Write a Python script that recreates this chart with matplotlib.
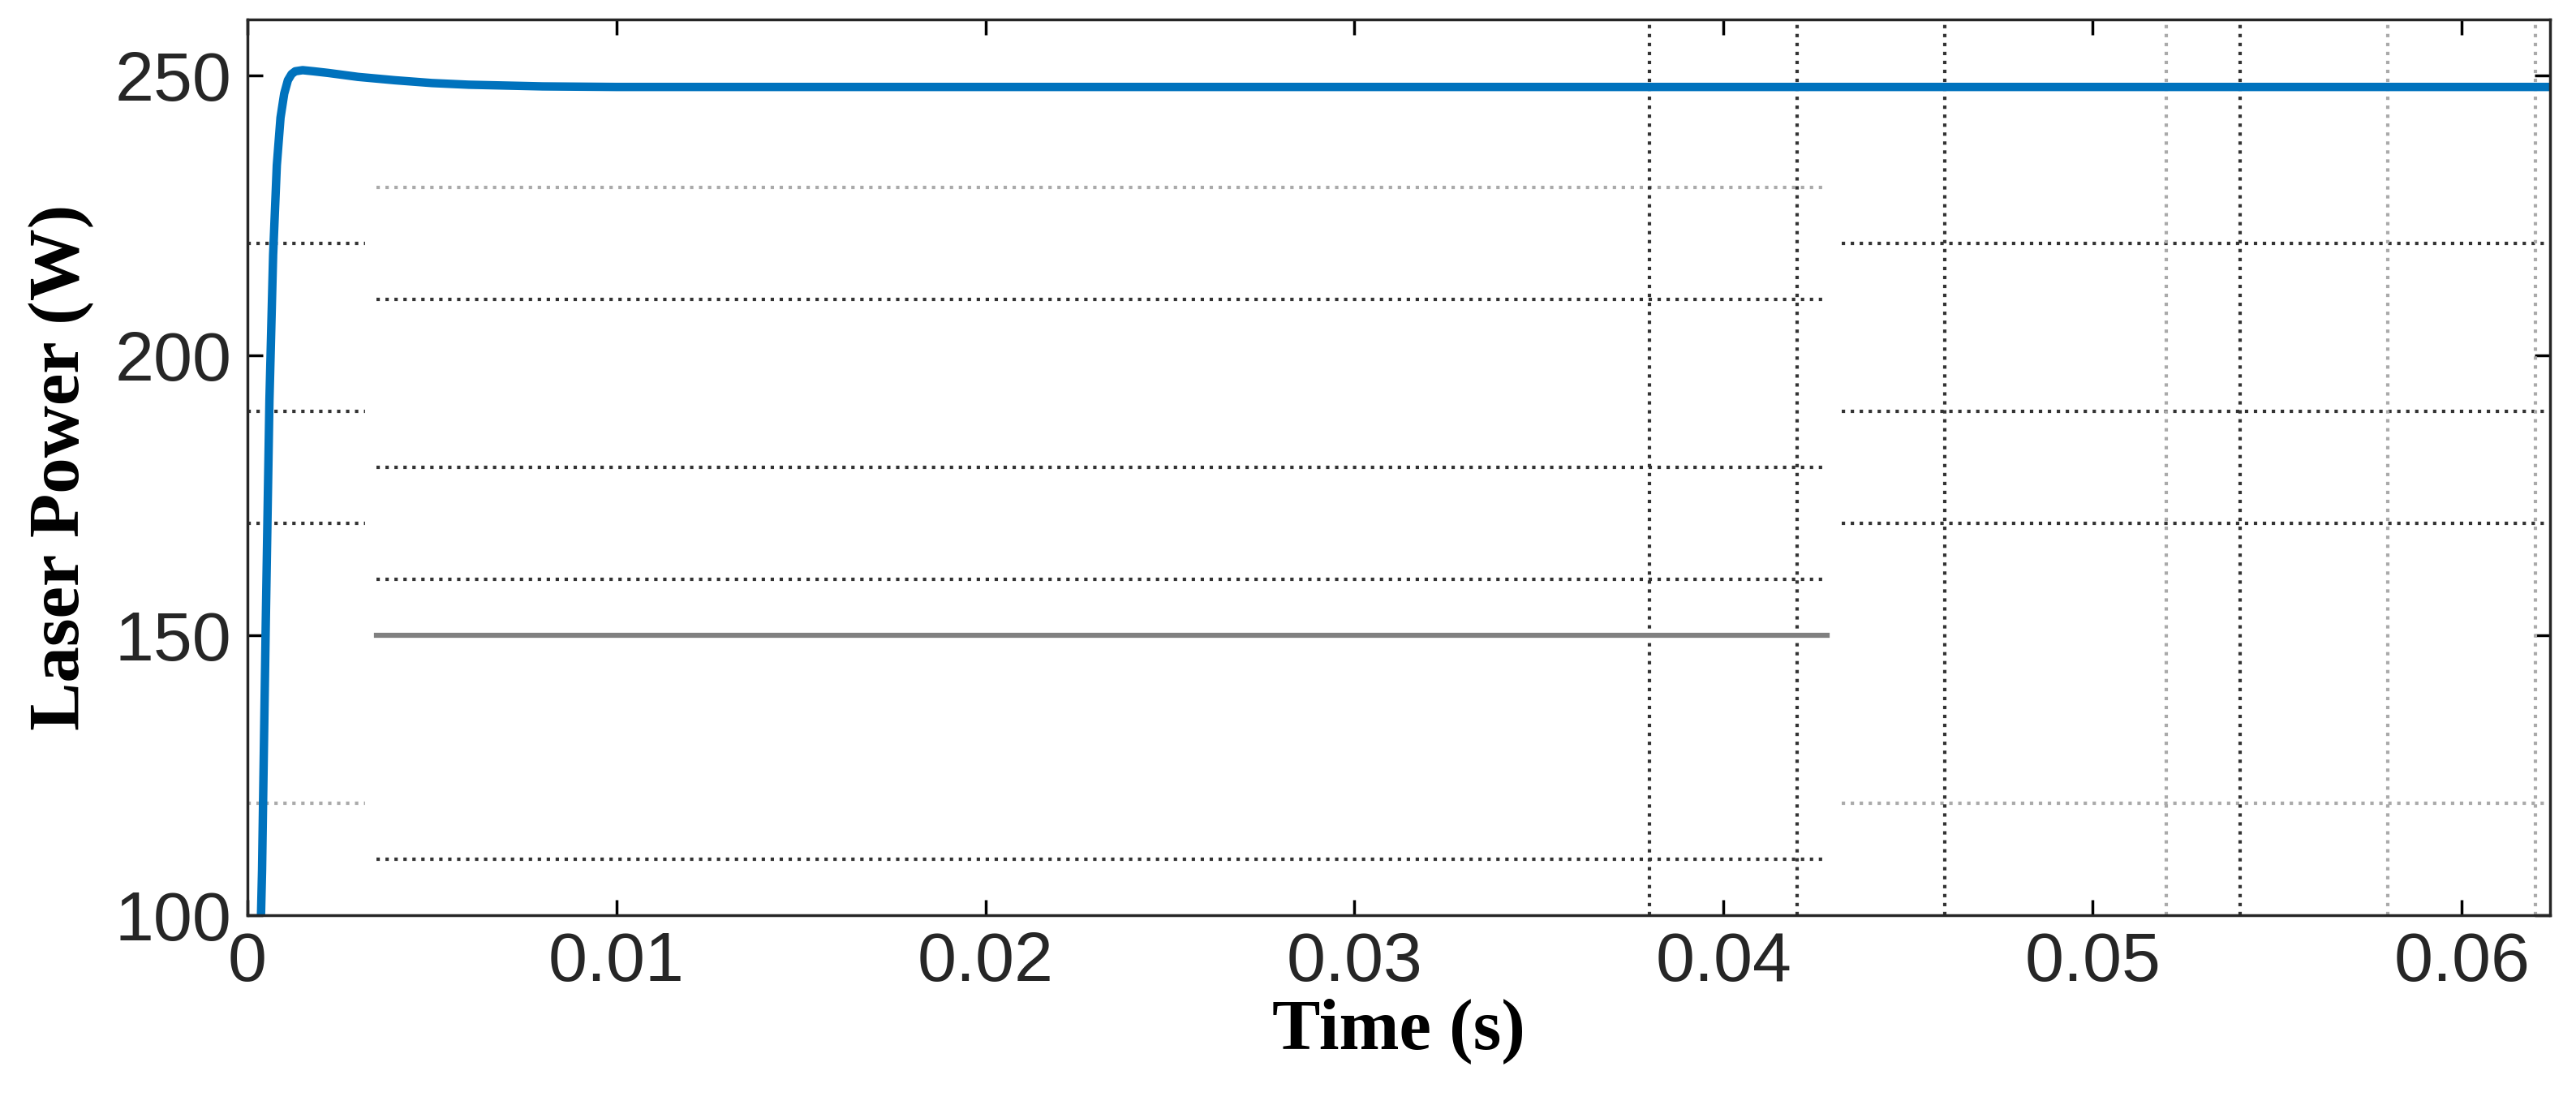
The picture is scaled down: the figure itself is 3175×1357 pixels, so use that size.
import matplotlib
matplotlib.use("Agg")
import matplotlib.pyplot as plt

# laser power response
t = [0.0002, 0.0003, 0.0004, 0.0005, 0.0006, 0.0007, 0.0008, 0.0009, 0.0010, 0.0011,
     0.0012, 0.0013, 0.0015, 0.0018, 0.0022, 0.0030, 0.0040, 0.0050, 0.0060, 0.0080,
     0.0100, 0.0624]
p = [40, 80, 108, 152, 192, 218, 234, 242.5, 246.8, 249.2,
     250.3, 250.8, 251, 250.8, 250.5, 249.8, 249.2, 248.7, 248.4, 248.1,
     248, 248]

# odd grid fragments in the figure
h_inner = [(230, "#aaaaaa"), (210, "#333333"), (180, "#333333"), (160, "#333333"), (110, "#333333")]
h_outer = [(220, "#333333"), (190, "#333333"), (170, "#333333"), (120, "#aaaaaa")]
v_lines = [(0.038, "#333333"), (0.042, "#333333"), (0.046, "#333333"), (0.052, "#aaaaaa"),
           (0.054, "#333333"), (0.058, "#aaaaaa"), (0.062, "#aaaaaa")]
ref_level = 150
inner_span = (0.0035, 0.0428)
outer_left = (0.0, 0.0032)
outer_right = (0.0432, 0.0624)

fig = plt.figure(figsize=(31.75, 13.57), dpi=100)
ax = fig.add_axes([0.096, 0.169, 0.894, 0.813])

for y, c in h_inner:
    ax.plot(inner_span, [y, y], ls=":", color=c, lw=3)
for y, c in h_outer:
    ax.plot(outer_left, [y, y], ls=":", color=c, lw=3)
    ax.plot(outer_right, [y, y], ls=":", color=c, lw=3)
for x, c in v_lines:
    ax.axvline(x, ls=":", color=c, lw=3)
ax.plot(inner_span, [ref_level, ref_level], color="#808080", lw=4.5)

ax.plot(t, p, color="#0072BD", lw=7.5, solid_joinstyle="round")

ax.set_xlim(0, 0.0624)
ax.set_ylim(100, 260)
ax.set_xticks([0, 0.01, 0.02, 0.03, 0.04, 0.05, 0.06])
ax.set_xticklabels(["0", "0.01", "0.02", "0.03", "0.04", "0.05", "0.06"])
ax.set_yticks([100, 150, 200, 250])
ax.tick_params(labelsize=62, direction="in", length=14, width=2.5, top=True, right=True, pad=14)
for lab in ax.get_xticklabels() + ax.get_yticklabels():
    lab.set_family("Liberation Sans")
    lab.set_color("#262626")
for s in ax.spines.values():
    s.set_linewidth(2.5)
    s.set_color("#262626")
ax.set_xlabel("Time (s)", fontsize=64, fontweight="bold", family="Liberation Serif", labelpad=2)
ax.set_ylabel("Laser Power (W)", fontsize=64, fontweight="bold", family="Liberation Serif", labelpad=18)

fig.savefig("out.png")
